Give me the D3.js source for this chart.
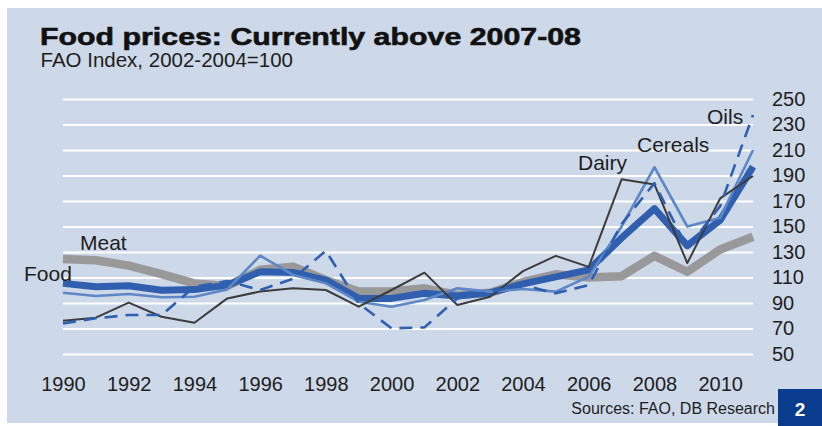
<!DOCTYPE html>
<html><head><meta charset="utf-8">
<script src="https://cdn.jsdelivr.net/npm/d3@7"></script>
<style>body{margin:0;background:#fff}svg{display:block}text{font-family:"Liberation Sans",Arial,sans-serif;fill:#1e1e1e}</style>
</head><body><svg id="c" width="822" height="426"></svg>
<script>
const years = d3.range(1990, 2012);
const food    = [105.4,102.8,103.6,100,100.5,104,114.5,114,108,93.6,93.6,97.6,95.5,98,105,110.5,116,141,164,135,155,197];
const meat    = [124.5,123.5,119.3,112.7,105.4,103.3,116,118.5,108,99,99,101.5,96.3,98,106.5,112.5,110,111,127,114.5,132,142];
const dairy   = [76,78.5,90.3,79.2,74.5,93.6,99,101.5,100.2,87.1,100.2,113.8,88.4,94.9,115,127,118.3,187,183,121.3,172,189.6];
const cereals = [98.1,95.5,97.1,94.5,94.9,100.7,127.1,112,105.4,91,87.1,92.4,101.5,98.9,101,98.9,110.6,150,196.6,150,156.8,210];
const oils    = [74,78,80.6,80.6,102.8,107.3,100.2,109,131,89.7,70.1,70.9,93.6,98.9,104.1,97.6,104.1,152,184,133,166,237.5];
const yTicks = [50,70,90,110,130,150,170,190,210,230,250];
const xTicks = [1990,1992,1994,1996,1998,2000,2002,2004,2006,2008,2010];
const seriesLabels = [
  {name:"Meat", x:80, y:250},
  {name:"Food", x:24, y:281},
  {name:"Dairy", x:578, y:170},
  {name:"Cereals", x:637, y:151.5},
  {name:"Oils", x:707, y:124}
];

const svg = d3.select("#c");
svg.append("rect").attr("x",7).attr("y",8).attr("width",815).attr("height",415).attr("fill","#cdd8e8");

const x = d3.scaleLinear().domain([1990,2011]).range([63,753]);
const y = d3.scaleLinear().domain([50,250]).range([354,99]);

const yAxis = svg.append("g").attr("transform","translate(63,0)")
  .call(d3.axisRight(y).tickValues(yTicks).tickSize(690).tickPadding(19).tickFormat(d3.format("d")));
yAxis.select(".domain").remove();
yAxis.selectAll("line").attr("stroke","#fff").attr("stroke-width",2.2);
yAxis.selectAll("text").attr("font-size",20).attr("fill","#1e1e1e").attr("font-family","Liberation Sans, Arial, sans-serif");

const xAxis = svg.append("g").attr("transform","translate(0,354)")
  .call(d3.axisBottom(x).tickValues(xTicks).tickSize(0).tickPadding(23).tickFormat(d3.format("d")));
xAxis.select(".domain").remove();
xAxis.selectAll("text").attr("font-size",20).attr("fill","#1e1e1e").attr("font-family","Liberation Sans, Arial, sans-serif");

const line = d3.line().x((d,i)=>x(years[i])).y(d=>y(d));
const series = [
  {data:meat, color:"#999999", w:8.5, dash:null},
  {data:food, color:"#2f5fae", w:7, dash:null},
  {data:cereals, color:"#5d87c6", w:2.6, dash:null},
  {data:dairy, color:"#3c3c3c", w:2, dash:null},
  {data:oils, color:"#2e5fb0", w:2.6, dash:"13,8"}
];
series.forEach(s=>{
  svg.append("path").attr("d",line(s.data)).attr("fill","none")
    .attr("stroke",s.color).attr("stroke-width",s.w)
    .attr("stroke-linejoin","round").attr("stroke-dasharray",s.dash);
});

svg.selectAll(".slab").data(seriesLabels).enter().append("text")
  .attr("x",d=>d.x).attr("y",d=>d.y).attr("font-size",21).text(d=>d.name);

svg.append("text").attr("x",40).attr("y",44.5).attr("font-size",24.5)
  .attr("font-family","DejaVu Sans, sans-serif").attr("font-weight","bold")
  .attr("textLength",541).attr("lengthAdjust","spacingAndGlyphs")
  .style("fill","#111").attr("stroke","#111").attr("stroke-width",0.6)
  .text("Food prices: Currently above 2007-08");
svg.append("text").attr("x",40.5).attr("y",67).attr("font-size",20.5).text("FAO Index, 2002-2004=100");

svg.append("text").attr("x",775).attr("y",414).attr("font-size",16).attr("text-anchor","end").text("Sources: FAO, DB Research");
svg.append("rect").attr("x",778).attr("y",389).attr("width",44).attr("height",37).attr("fill","#0a3c8e");
svg.append("text").attr("x",800).attr("y",416).attr("font-size",19).attr("font-weight","bold")
  .attr("text-anchor","middle").style("fill","#fff").text("2");
</script></body></html>
